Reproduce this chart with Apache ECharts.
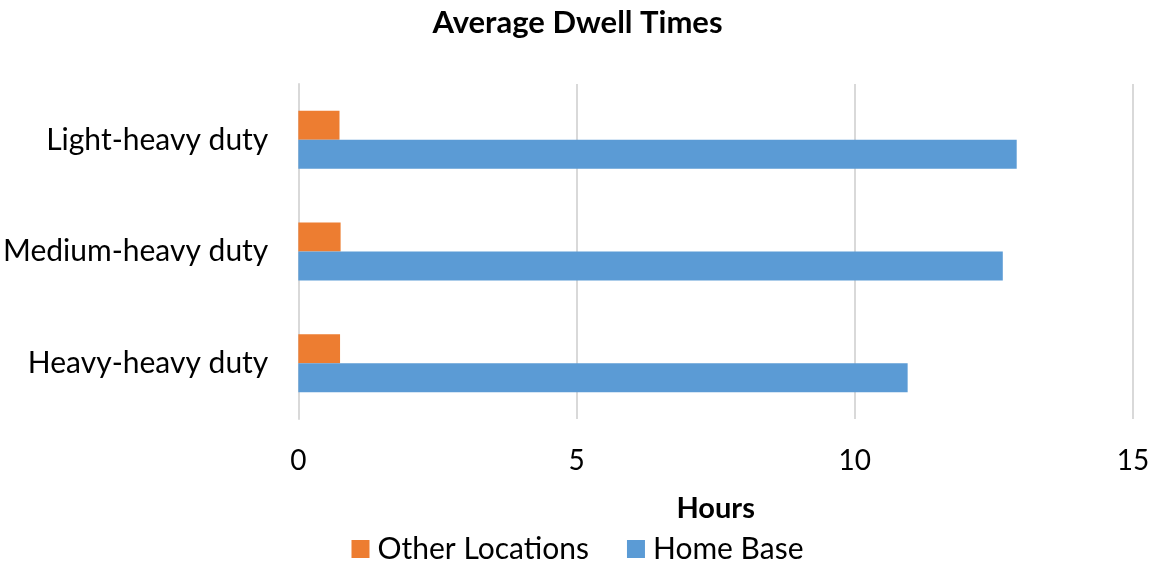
<!DOCTYPE html>
<html>
<head>
<meta charset="utf-8">
<script src="https://cdn.jsdelivr.net/npm/echarts@6/dist/echarts.min.js"></script>
<style>
  html, body { margin: 0; padding: 0; background: #fff; }
  #chart { width: 1155px; height: 571px; }
</style>
</head>
<body>
<div id="chart"></div>
<script>
// Vehicle classes, listed top to bottom
const categories = ['Light-heavy duty', 'Medium-heavy duty', 'Heavy-heavy duty'];
// Average dwell time in hours
const otherLocations = [0.74, 0.76, 0.75];
const homeBase = [12.91, 12.66, 10.95];
const xTicks = [0, 5, 10, 15];

const FONT = 'Lato';
const chart = echarts.init(document.getElementById('chart'), null, { renderer: 'canvas' });

chart.setOption({
  animation: false,
  title: {
    text: 'Average Dwell Times',
    left: 'center',
    top: 2,
    textStyle: { fontFamily: FONT, fontSize: 31, fontWeight: 'bold', color: '#000' }
  },
  legend: {
    bottom: 2,
    left: 'center',
    itemWidth: 18,
    itemHeight: 18,
    itemGap: 38,
    icon: 'rect',
    textStyle: { fontFamily: FONT, fontSize: 30, color: '#000', padding: [0, 0, 0, 3] },
    data: ['Other Locations', 'Home Base']
  },
  grid: { left: 298, right: 22, top: 84, bottom: 152, containLabel: false },
  xAxis: {
    type: 'value',
    min: xTicks[0],
    max: xTicks[xTicks.length - 1],
    interval: 5,
    name: 'Hours',
    nameLocation: 'middle',
    nameGap: 75,
    nameTextStyle: { fontFamily: FONT, fontSize: 29, fontWeight: 'bold', color: '#000' },
    axisLine: { show: false },
    axisTick: { show: false },
    axisLabel: { fontFamily: FONT, fontSize: 28, color: '#000', margin: 28 },
    splitLine: { show: true, lineStyle: { color: '#d9d9d9', width: 2 } }
  },
  yAxis: {
    type: 'category',
    inverse: true,
    data: categories,
    axisLine: { show: true, lineStyle: { color: '#d9d9d9', width: 2 } },
    axisTick: { show: false },
    axisLabel: { fontFamily: FONT, fontSize: 30, color: '#000', margin: 30 }
  },
  series: [
    {
      name: 'Other Locations',
      type: 'bar',
      data: otherLocations,
      barWidth: 29,
      barGap: '0%',
      itemStyle: { color: '#ed7d31' }
    },
    {
      name: 'Home Base',
      type: 'bar',
      data: homeBase,
      barWidth: 29,
      barGap: '0%',
      itemStyle: { color: '#5b9bd5' }
    }
  ]
});
</script>
</body>
</html>
